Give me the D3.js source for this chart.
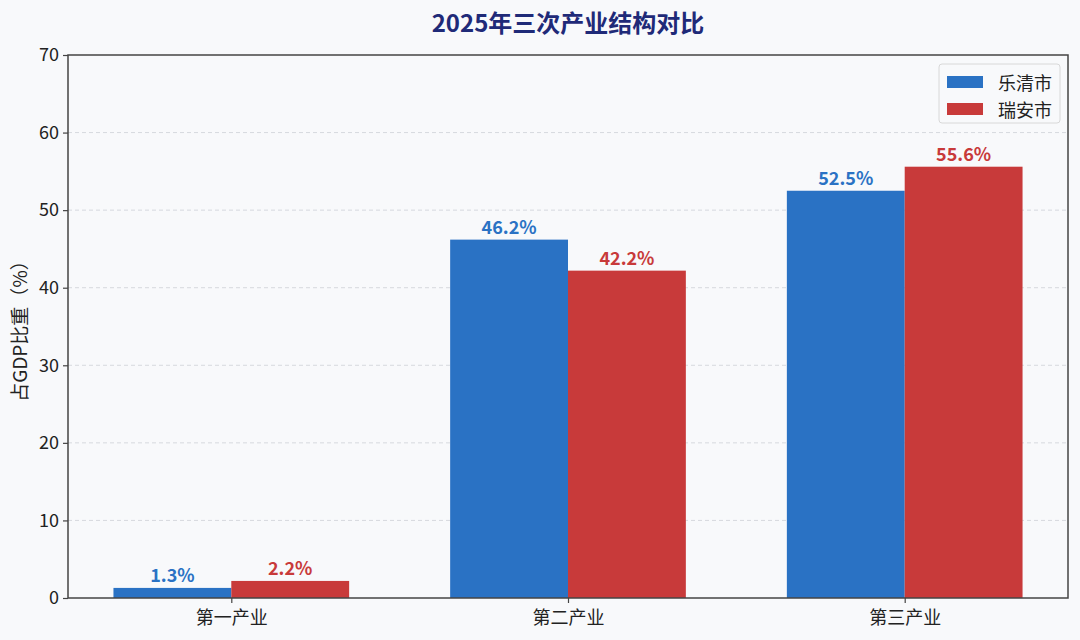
<!DOCTYPE html>
<html>
<head>
<meta charset="utf-8">
<script src="https://cdn.jsdelivr.net/npm/d3@7"></script>
<style>
  body { margin: 0; background: #f8f9fb; }
  svg { display: block; font-family: "Noto Sans CJK SC", "Noto Sans", sans-serif; }
</style>
</head>
<body>
<div id="chart"></div>
<script>
const categories = ["第一产业", "第二产业", "第三产业"];
const seriesNames = ["乐清市", "瑞安市"];
const yueqing = [1.3, 46.2, 52.5];
const ruian = [2.2, 42.2, 55.6];
const yTicks = [0, 10, 20, 30, 40, 50, 60, 70];

const colours = ["#2a72c4", "#c83a3a"];
const width = 1080, height = 640;
const margin = { top: 55, right: 12, bottom: 42, left: 68 };

const svg = d3.select("#chart").append("svg")
  .attr("width", width).attr("height", height);

svg.append("rect").attr("width", width).attr("height", height).attr("fill", "#f8f9fb");

const x = d3.scaleLinear()
  .domain([-0.485, categories.length - 1 + 0.485])
  .range([margin.left, width - margin.right]);
const y = d3.scaleLinear().domain([0, 70]).range([height - margin.bottom, margin.top]);
const barW = x(0.35) - x(0);

// grid
svg.append("g")
  .selectAll("line")
  .data(yTicks.filter(d => d > 0 && d < 70))
  .join("line")
  .attr("x1", x.range()[0]).attr("x2", x.range()[1])
  .attr("y1", d => y(d)).attr("y2", d => y(d))
  .attr("stroke", "#d6d9de").attr("stroke-width", 1)
  .attr("stroke-dasharray", "4,3");

const series = [yueqing, ruian];
series.forEach((vals, si) => {
  const off = si === 0 ? -0.35 : 0;
  const g = svg.append("g");
  g.selectAll("rect")
    .data(vals)
    .join("rect")
    .attr("x", (d, i) => x(i + off))
    .attr("y", d => y(d))
    .attr("width", barW)
    .attr("height", d => y(0) - y(d))
    .attr("fill", colours[si]);
  g.selectAll("text")
    .data(vals)
    .join("text")
    .attr("x", (d, i) => x(i + off) + barW / 2)
    .attr("y", d => y(d) - 6)
    .attr("text-anchor", "middle")
    .attr("fill", colours[si])
    .style("font-size", "18px")
    .style("font-weight", "bold")
    .text(d => d.toFixed(1) + "%");
});

// axes
const yAxis = svg.append("g")
  .attr("transform", `translate(${margin.left},0)`)
  .call(d3.axisLeft(y).tickValues(yTicks).tickSize(5).tickPadding(4));
const xAxis = svg.append("g")
  .attr("transform", `translate(0,${height - margin.bottom})`)
  .call(d3.axisBottom(x).tickValues(d3.range(categories.length))
    .tickFormat(i => categories[i]).tickSize(5).tickPadding(8));
[yAxis, xAxis].forEach(a => {
  a.select(".domain").remove();
  a.selectAll(".tick line").attr("stroke", "#444").attr("stroke-width", 1.2);
  a.selectAll(".tick text").attr("fill", "#222").style("font-size", "18px")
    .style("font-family", "'Noto Sans CJK SC', sans-serif");
});

// frame
svg.append("rect")
  .attr("x", x.range()[0]).attr("y", y.range()[1])
  .attr("width", x.range()[1] - x.range()[0])
  .attr("height", y.range()[0] - y.range()[1])
  .attr("fill", "none").attr("stroke", "#444").attr("stroke-width", 1.5);

// title
svg.append("text")
  .attr("x", (x.range()[0] + x.range()[1]) / 2)
  .attr("y", 32)
  .attr("text-anchor", "middle")
  .attr("fill", "#1f2a78")
  .style("font-size", "24px")
  .style("font-weight", "bold")
  .text("2025年三次产业结构对比");

// y label
svg.append("text")
  .attr("transform", `translate(27,${(y.range()[0] + y.range()[1]) / 2}) rotate(-90)`)
  .attr("text-anchor", "middle")
  .attr("fill", "#222")
  .style("font-size", "19px")
  .text("占GDP比重（%）");

// legend
const lg = svg.append("g").attr("transform", "translate(939,64)");
lg.append("rect").attr("width", 121).attr("height", 59).attr("rx", 3)
  .attr("fill", "#f8f9fb").attr("stroke", "#d8d8d8");
seriesNames.forEach((name, i) => {
  lg.append("rect").attr("x", 8).attr("y", 12 + i * 27)
    .attr("width", 36).attr("height", 12).attr("fill", colours[i]);
  lg.append("text").attr("x", 59).attr("y", 18 + i * 27)
    .attr("dominant-baseline", "central")
    .attr("fill", "#222").style("font-size", "18px").text(name);
});
</script>
</body>
</html>
